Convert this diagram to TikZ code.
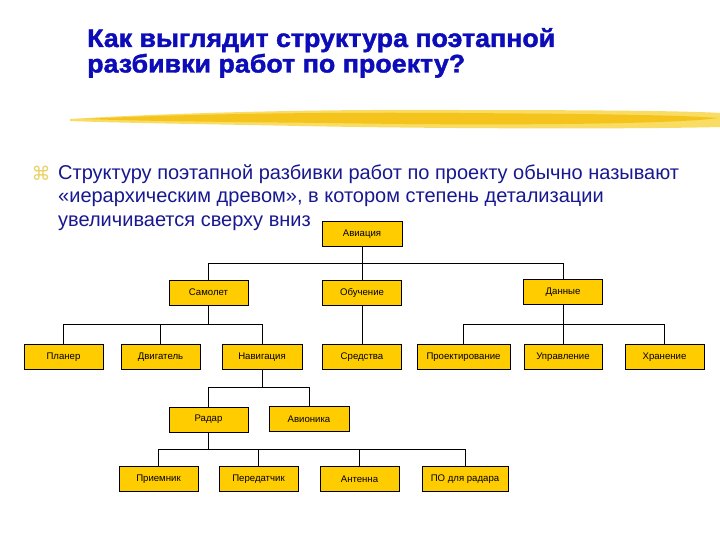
\documentclass[tikz,border=0pt]{standalone}
\usepackage{fontspec}
\setmainfont{Liberation Sans}
\newfontfamily\symfont{DejaVu Sans}
\newfontfamily\titlefont[FakeBold=1.5]{Liberation Sans Bold}
\definecolor{titleblue}{RGB}{12,12,185}
\definecolor{bodyblue}{RGB}{24,24,145}
\definecolor{boxyellow}{RGB}{255,204,0}
\definecolor{brushA}{RGB}{244,196,28}
\definecolor{brushB}{RGB}{249,220,100}
\definecolor{bulletyellow}{RGB}{232,210,100}
\tikzset{
  box/.style={draw=black, line width=0.8pt, fill=boxyellow, minimum height=25pt,
    inner sep=0pt, font=\fontsize{9.6}{11}\selectfont, text=black},
  link/.style={draw=black, line width=0.8pt},
  titletext/.style={anchor=base west, inner sep=0pt, text=titleblue,
    font=\titlefont\fontsize{25.5}{28}\selectfont},
  bodytext/.style={anchor=base west, inner sep=0pt, text=bodyblue,
    font=\fontsize{20}{24}\selectfont}
}
\begin{document}
\begin{tikzpicture}[x=1pt,y=-1pt]
\path[use as bounding box, fill=white] (0,0) rectangle (720,540);
% title
\node[titletext] (t1) at (87,47) {\resizebox{468pt}{\height}{Как выглядит структура поэтапной}};
\node[titletext] (t2) at (87,72.5) {\resizebox{378pt}{\height}{разбивки работ по проекту?}};
% brush stroke
\fill[brushB] (70,119) .. controls (150,114) and (300,109) .. (450,110)
  .. controls (600,110) and (690,111) .. (720,113) -- (720,127)
  .. controls (650,129) and (450,129) .. (300,126)
  .. controls (200,124) and (120,123) .. (70,121) -- cycle;
\fill[brushA] (85,119) .. controls (180,114) and (320,112) .. (460,113)
  .. controls (600,114) and (680,115) .. (718,118)
  .. controls (680,124) and (500,126) .. (330,123)
  .. controls (220,122) and (140,121) .. (85,119) -- cycle;
% bullet and body
\node[inner sep=0pt, text=bulletyellow, font=\symfont\fontsize{19}{20}\selectfont] (bul) at (41,173) {⌘};
\node[bodytext] (b1) at (58,180) {Структуру поэтапной разбивки работ по проекту обычно называют};
\node[bodytext] (b2) at (58,203) {«иерархическим древом», в котором степень детализации};
\node[bodytext] (b3) at (58,226) {увеличивается сверху вниз};
% boxes
\node[box, minimum width=80pt] (av) at (362,234) {Авиация};
\node[box, minimum width=79pt] (sam) at (208.5,292.5) {Самолет};
\node[box, minimum width=79pt] (obu) at (362,292.5) {Обучение};
\node[box, minimum width=79pt] (dan) at (563,292) {Данные};
\node[box, minimum width=79pt] (pla) at (63.5,357) {Планер};
\node[box, minimum width=79pt] (dvi) at (160.5,357) {Двигатель};
\node[box, minimum width=80pt] (nav) at (262,357) {Навигация};
\node[box, minimum width=79pt] (sre) at (362,357) {Средства};
\node[box, minimum width=93pt] (pro) at (463.5,357) {Проектирование};
\node[box, minimum width=78pt] (upr) at (563,357) {Управление};
\node[box, minimum width=79pt] (hra) at (664.5,357) {Хранение};
\node[box, minimum width=79pt] (rad) at (208.5,419.5) {Радар};
\node[box, minimum width=80pt] (avi) at (309,419) {Авионика};
\node[box, minimum width=79pt] (pri) at (158.5,479) {Приемник};
\node[box, minimum width=79pt] (per) at (258.5,479) {Передатчик};
\node[box, minimum width=79pt] (ant) at (359.5,479) {Антенна};
\node[box, minimum width=86pt] (po) at (465,479) {ПО для радара};
% bus lines
\coordinate (y1) at (0,263);
\coordinate (y2) at (0,324);
\coordinate (y3) at (0,387);
\coordinate (y4) at (0,449);
% connectors
\draw[link] (av.south) -- (obu.north);
\draw[link] (sam.north) |- (y1 -| dan.north) -- (dan.north);
\draw[link] (sam.south) -- (sam.south |- y2);
\draw[link] (pla.north) |- (y2 -| nav.north) -- (nav.north);
\draw[link] (dvi.north) -- (dvi.north |- y2);
\draw[link] (obu.south) -- (sre.north);
\draw[link] (dan.south) -- (upr.north);
\draw[link] (pro.north) |- (y2 -| hra.north) -- (hra.north);
\draw[link] (nav.south) -- (nav.south |- y3);
\draw[link] (rad.north) |- (y3 -| avi.north) -- (avi.north);
\draw[link] (rad.south) -- (rad.south |- y4);
\draw[link] (pri.north) |- (y4 -| po.north) -- (po.north);
\draw[link] (per.north) -- (per.north |- y4);
\draw[link] (ant.north) -- (ant.north |- y4);
\end{tikzpicture}
\end{document}
